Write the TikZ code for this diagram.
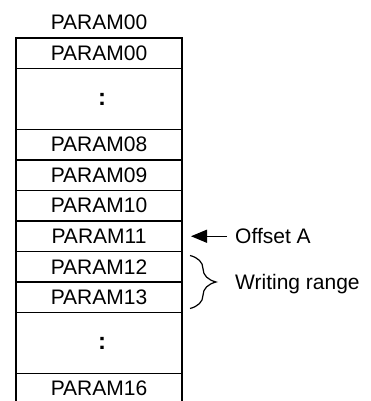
\documentclass[tikz,border=0pt]{standalone}
\usepackage{fontspec}
\setmainfont{Liberation Sans}
\usetikzlibrary{arrows.meta, positioning, decorations.pathreplacing, calc}

\begin{document}
\begin{tikzpicture}[x=1pt, y=1pt,
  cell/.style={rectangle, draw, line width=1.4pt, minimum width=166pt,
               minimum height=30.5pt, inner sep=0pt, outer sep=0pt,
               font=\fontsize{21}{25}\selectfont},
  gap/.style={cell, minimum height=61pt, font=\fontsize{24}{28}\selectfont\bfseries},
  lbl/.style={font=\fontsize{21}{25}\selectfont, inner sep=0pt, text depth=0pt},
  arr/.style={-{Triangle[length=16pt, width=13pt]}, line width=1.3pt}
]
\useasboundingbox (0,0) rectangle (370,401);
\clip (0,0) rectangle (370,401);
\node[cell, anchor=north] (p00) at (99,363) {PARAM00};
\node[lbl, above=8pt of p00] (head) {PARAM00};
\node[gap, below=0pt of p00] (dots1) {\hspace*{6pt}:};
\node[cell, below=0pt of dots1] (p08) {PARAM08};
\node[cell, below=0pt of p08] (p09) {PARAM09};
\node[cell, below=0pt of p09] (p10) {PARAM10};
\node[cell, below=0pt of p10] (p11) {PARAM11};
\node[cell, below=0pt of p11] (p12) {PARAM12};
\node[cell, below=0pt of p12] (p13) {PARAM13};
\node[gap, below=0pt of p13] (dots2) {\hspace*{6pt}:};
\node[cell, below=0pt of dots2] (p16) {PARAM16};
% pointer and range
\node[lbl, right=53pt of p11] (offs) {Offset A};
\node[lbl, right=53pt of p12.south east] (wrng) {Writing range};
\draw[arr, shorten <=8pt, shorten >=9pt] (offs.west) -- (p11.east);
\coordinate (b1) at ($(p12.north east)+(8pt,-4pt)$);
\coordinate (b2) at ($(p13.south east)+(8pt,4pt)$);
\draw[decorate, decoration={brace, amplitude=26pt}, line width=1.2pt] (b1) -- (b2);
\end{tikzpicture}
\end{document}
